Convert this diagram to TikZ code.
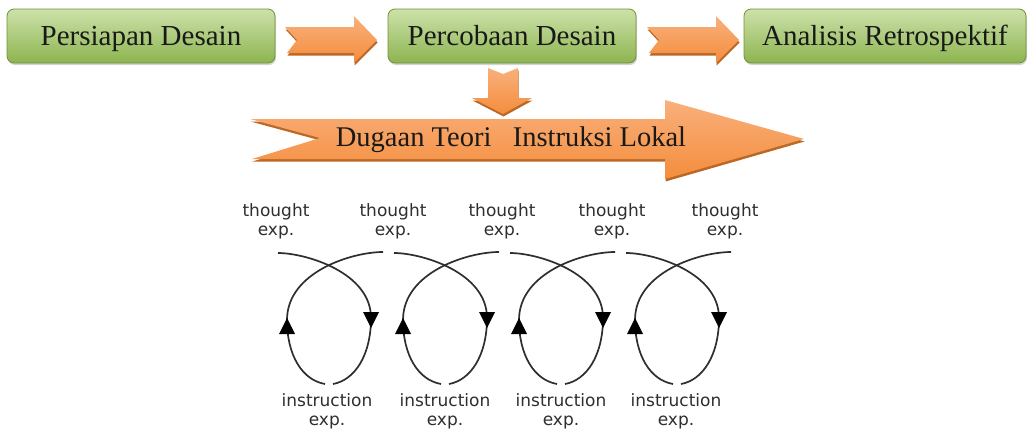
\documentclass[tikz,border=0pt]{standalone}
\usepackage{fontspec}
\setmainfont{Liberation Serif}
\newfontfamily\lblfont{DejaVu Sans}
\usetikzlibrary{shadows}
\definecolor{gtop}{HTML}{CDE2AA}
\definecolor{gbot}{HTML}{8DB450}
\definecolor{gbord}{HTML}{6E9236}
\definecolor{otop}{HTML}{F9B07C}
\definecolor{obot}{HTML}{F48D3C}
\definecolor{oshad}{HTML}{B4580E}
\definecolor{lgray}{HTML}{2E2E2E}
\begin{document}
\begin{tikzpicture}[x=1pt,y=-1pt,
  gbox/.style={draw=gbord, line width=0.8pt, rounded corners=7pt,
    top color=gtop, bottom color=gbot, minimum height=54pt, inner sep=0pt,
    text height=22pt, text depth=4pt,
    font=\fontsize{29}{32}\selectfont, text=black!90,
    drop shadow={shadow xshift=1pt, shadow yshift=-2pt, opacity=0.35}},
  oarrow/.style={top color=otop, bottom color=obot,
    drop shadow={shadow xshift=0.5pt, shadow yshift=-2.5pt, fill=oshad, opacity=0.9}},
  loopline/.style={draw=lgray, line width=1.7pt},
  tri/.style={fill=black},
  lbl/.style={font=\lblfont\fontsize{17}{19}\selectfont, text=lgray, align=center, inner sep=0pt}]
\useasboundingbox (0,0) rectangle (1032,434);

% top boxes
\node[gbox, minimum width=268pt] (b1) at (141,36) {Persiapan Desain};
\node[gbox, minimum width=248pt] (b2) at (512,36) {Percobaan Desain};
\node[gbox, minimum width=282pt] (b3) at (885,36) {Analisis Retrospektif};

% block arrows between boxes
\foreach \s in {0,362}{
  \path[oarrow] (285+\s,27) -- (354+\s,27) -- (354+\s,16) -- (377+\s,40)
    -- (354+\s,63) -- (354+\s,53) -- (287+\s,53) -- (297+\s,40) -- cycle;
}
% down arrow
\path[oarrow] (488,68) -- (503,74) -- (518,68) -- (518,98) -- (532,98)
  -- (503,114) -- (472,98) -- (488,98) -- cycle;
% big arrow
\path[oarrow] (250,119) -- (665,119) -- (665,100) -- (804,139) -- (665,179)
  -- (665,159) -- (252,159) -- (320,138) -- cycle;
\node[font=\fontsize{28.5}{32}\selectfont, text=black!90] (dt) at (511,140)
  {Dugaan Teori\hspace{0.5em}\ Instruksi Lokal};

% loops
\foreach \cx in {330,446,562,678}{
  \draw[loopline] (\cx-52,253) .. controls (\cx-25,253) and (\cx+41,272) .. (\cx+41,318)
    .. controls (\cx+41,355) and (\cx+25,380) .. (\cx+3,384);
  \draw[loopline] (\cx-5,384) .. controls (\cx-28,380) and (\cx-43,355) .. (\cx-43,320)
    .. controls (\cx-43,272) and (\cx+22,252) .. (\cx+53,252);
  \fill[tri] (\cx+33,312) -- (\cx+49,312) -- (\cx+41,328) -- cycle;
  \fill[tri] (\cx-51,334) -- (\cx-35,334) -- (\cx-43,318) -- cycle;
}

% labels
\foreach \x/\n in {276/t1,393/t2,502/t3,612/t4,725/t5}{
  \node[lbl] (\n) at (\x,221) {thought\\exp.};
}
\foreach \x/\n in {327/i1,445/i2,561/i3,676/i4}{
  \node[lbl] (\n) at (\x,411) {instruction\\exp.};
}
\end{tikzpicture}
\end{document}
